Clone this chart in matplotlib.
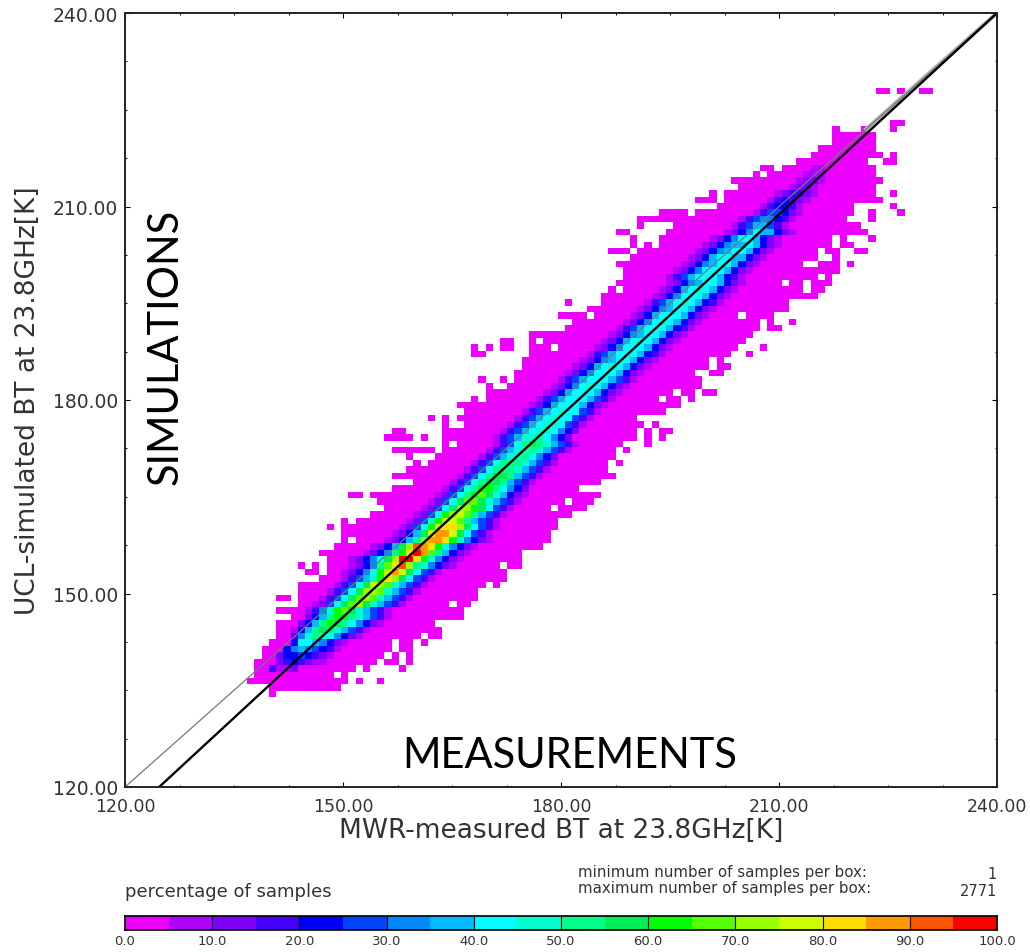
import numpy as np
import matplotlib
matplotlib.use("Agg")
import matplotlib.pyplot as plt
from matplotlib.colors import ListedColormap, BoundaryNorm

# --------------------------------------------------
# Values
# --------------------------------------------------

# colour bands, one per 5 percent
band_colors = [
    "#ee00ff", "#b000ff", "#7d00ff", "#4400ff", "#0000ff",
    "#0044ff", "#0088ff", "#00bbff", "#00ffff", "#00ffcc",
    "#00ff88", "#00ee55", "#00ff00", "#55ff00", "#99ff00",
    "#ccff00", "#ffdd00", "#ff9900", "#ff5500", "#ff0000",
]

# occupied boxes of the lowest band, by row: (first column, last column)
low_rows = {
    134: [(139, 139)],
    135: [(139, 148)],
    136: [(136, 149), (151, 151), (154, 154)],
    137: [(137, 147), (149, 149)],
    138: [(137, 150), (152, 152), (157, 157)],
    139: [(137, 153), (155, 156), (158, 158)],
    140: [(138, 154), (156, 156), (158, 158)],
    141: [(138, 155), (157, 158)],
    142: [(139, 155), (157, 158), (160, 160)],
    143: [(140, 159), (161, 162)],
    144: [(140, 162)],
    145: [(140, 161)],
    146: [(142, 165)],
    147: [(140, 165)],
    148: [(143, 163), (165, 166)],
    149: [(140, 141), (143, 167)],
    150: [(143, 167)],
    151: [(143, 168), (170, 170)],
    152: [(146, 171)],
    153: [(144, 145), (147, 171)],
    154: [(143, 143), (145, 145), (147, 170), (172, 173)],
    155: [(147, 173)],
    156: [(146, 173)],
    157: [(148, 176)],
    158: [(149, 149), (151, 177)],
    159: [(149, 177)],
    160: [(147, 147), (149, 178)],
    161: [(149, 149), (151, 178)],
    162: [(153, 180)],
    163: [(155, 177), (179, 182)],
    164: [(154, 179), (181, 183)],
    165: [(150, 151), (153, 184)],
    166: [(156, 181)],
    167: [(159, 184)],
    168: [(156, 186)],
    169: [(158, 185)],
    170: [(159, 159), (161, 185), (187, 187)],
    171: [(158, 158), (162, 186)],
    172: [(156, 161), (163, 186), (188, 188)],
    173: [(163, 163), (165, 187), (191, 191)],
    174: [(155, 158), (160, 160), (163, 189), (191, 191), (193, 193)],
    175: [(156, 157), (163, 189), (191, 191), (193, 194)],
    176: [(163, 163), (166, 190), (192, 192)],
    177: [(161, 161), (163, 163), (165, 189)],
    178: [(166, 193)],
    179: [(165, 195)],
    180: [(167, 167), (169, 192), (194, 195), (197, 197)],
    181: [(169, 194), (196, 197), (199, 200)],
    182: [(169, 169), (172, 198)],
    183: [(168, 168), (171, 171), (173, 198)],
    184: [(173, 197), (200, 201)],
    185: [(174, 199), (201, 202)],
    186: [(174, 199), (201, 201)],
    187: [(167, 168), (175, 202), (205, 205)],
    188: [(167, 167), (169, 169), (171, 172), (175, 177), (179, 203), (207, 207)],
    189: [(171, 172), (175, 175), (177, 204)],
    190: [(175, 205)],
    191: [(180, 206), (208, 209)],
    192: [(181, 206), (208, 208), (211, 211)],
    193: [(179, 182), (184, 203), (205, 208)],
    194: [(183, 210)],
    195: [(180, 180), (185, 210)],
    196: [(185, 214)],
    197: [(186, 186), (188, 212), (214, 215)],
    198: [(187, 209), (211, 212), (214, 216)],
    199: [(188, 214), (216, 216)],
    200: [(188, 217)],
    201: [(187, 212), (215, 217), (219, 219)],
    202: [(189, 214), (217, 217)],
    203: [(186, 188), (190, 214), (216, 217), (220, 221)],
    204: [(189, 189), (191, 191), (193, 216), (218, 219)],
    205: [(189, 189), (193, 216), (218, 218), (222, 222)],
    206: [(187, 188), (194, 221)],
    207: [(190, 190), (195, 220)],
    208: [(190, 218), (222, 222)],
    209: [(193, 196), (198, 219), (222, 222), (226, 226)],
    210: [(201, 219), (225, 225)],
    211: [(198, 200), (202, 223)],
    212: [(200, 200), (202, 222), (225, 225)],
    213: [(204, 222)],
    214: [(203, 223)],
    215: [(206, 206), (208, 222)],
    216: [(207, 208), (210, 222)],
    217: [(212, 221), (224, 225)],
    218: [(214, 223), (225, 225)],
    219: [(215, 222)],
    220: [(217, 222)],
    221: [(217, 222)],
    222: [(217, 217), (221, 221), (225, 225)],
    223: [(225, 226)],
    228: [(223, 224), (226, 226), (229, 230)],
}

# ridge of the distribution, by row: first column and one band digit per box
# digits run 0-9 then a-j, so j is the 95-100 percent band
core_rows = {
    138: (139, "3112"),
    139: (140, "2343211"),
    140: (140, "24454321"),
    141: (141, "46765431"),
    142: (142, "48876421"),
    143: (142, "369a986421"),
    144: (142, "147aba97531"),
    145: (143, "247acba86421"),
    146: (144, "247acca97531"),
    147: (144, "1369cdb97531"),
    148: (145, "1258bdeb97531"),
    149: (146, "1358bded97531"),
    150: (147, "1358beed97531"),
    151: (148, "1358bfed97531"),
    152: (149, "13579cgeb8531"),
    153: (149, "12468cfhfb8531"),
    154: (150, "1246adgiea96421"),
    155: (150, "12468bejjgc96421"),
    156: (152, "1246acgjhda7421"),
    157: (153, "1247beihgc96421"),
    158: (155, "1247aehhgc96421"),
    159: (156, "1247bfhhfb8531"),
    160: (157, "1258cfggeb8531"),
    161: (158, "1259cffda7531"),
    162: (159, "1258cefda7531"),
    163: (160, "1258beecb8531"),
    164: (161, "1258bddb97531"),
    165: (162, "1258acdb97421"),
    166: (163, "1358acca8642"),
    167: (164, "1358abba7531"),
    168: (165, "1358abba7531"),
    169: (166, "1358aaa97531"),
    170: (167, "1358aaa97531"),
    171: (168, "135799a8642"),
    172: (169, "135799a97531"),
    173: (170, "1358aba97531"),
    174: (170, "135799a8642"),
    175: (171, "13578998642"),
    176: (172, "13578998531"),
    177: (173, "13578988531"),
    178: (174, "13578988531"),
    179: (175, "12478887421"),
    180: (176, "13578887531"),
    181: (177, "12478887421"),
    182: (178, "12468987421"),
    183: (179, "13578887531"),
    184: (180, "12468887421"),
    185: (181, "12478987421"),
    186: (182, "12467887421"),
    187: (183, "13578887431"),
    188: (184, "12468887421"),
    189: (185, "12478987421"),
    190: (186, "12467887421"),
    191: (187, "13578887431"),
    192: (188, "12468987421"),
    193: (189, "12478887421"),
    194: (190, "12467887421"),
    195: (191, "13578987431"),
    196: (192, "12468887421"),
    197: (193, "12478987421"),
    198: (194, "12467887421"),
    199: (194, "13578887431"),
    200: (195, "12468887421"),
    201: (196, "12467887421"),
    202: (197, "12478877421"),
    203: (198, "12467887421"),
    204: (199, "12467787421"),
    205: (200, "1246887421"),
    206: (202, "1246877421"),
    207: (203, "13577531"),
    208: (204, "13566431"),
    209: (206, "1355421"),
    210: (207, "134431"),
    211: (208, "134321"),
    212: (209, "123321"),
    213: (211, "1221"),
    214: (212, "1221"),
    215: (213, "111"),
    216: (214, "11"),
}

# lines: one to one and regression, the grey one gets broad past the cloud
one_x = [120, 240]
one_y = [120, 240]
fit_x = [124.7, 240]
fit_y = [120, 240]
band_x = [222, 240]
band_y = [222, 240]

ticks = [120, 150, 180, 210, 240]
minor_ticks = [127.5, 135, 142.5, 157.5, 165, 172.5, 187.5, 195, 202.5, 217.5, 225, 232.5]
bar_ticks = [0, 10, 20, 30, 40, 50, 60, 70, 80, 90, 100]
min_samples = 1
max_samples = 2771

# --------------------------------------------------
# Build the grid
# --------------------------------------------------

digits = "0123456789abcdefghij"
ncol = 110
nrow = 110
col0 = 130
row0 = 130

grid = np.full((nrow, ncol), np.nan)
for row, segments in low_rows.items():
    for first, last in segments:
        grid[row - row0, first - col0:last - col0 + 1] = 2.5

for row, (first, levels) in core_rows.items():
    for i, ch in enumerate(levels):
        grid[row - row0, first - col0 + i] = digits.index(ch) * 5 + 2.5

# boxes are a little under 1 K wide
x_edges = 139.8 + (np.arange(ncol + 1) + col0 - 139) * 0.994
y_edges = 133.92 + (np.arange(nrow + 1) + row0 - 134) * 0.995

cmap = ListedColormap(band_colors)
norm = BoundaryNorm(np.arange(0, 105, 5), cmap.N)

# --------------------------------------------------
# Plot
# --------------------------------------------------

W, H = 1030, 953
fig = plt.figure(figsize=(W / 100, H / 100), dpi=100)
ax = fig.add_axes([125 / W, 1 - 788 / H, 872 / W, 774 / H])

ax.pcolormesh(x_edges, y_edges, np.ma.masked_invalid(grid), cmap=cmap, norm=norm)
ax.plot(band_x, band_y, color="#b5b5b5", linewidth=3)
ax.plot(one_x, one_y, color="#777777", linewidth=0.9)
ax.plot(fit_x, fit_y, color="black", linewidth=1.7)

ax.set_xlim(120, 240)
ax.set_ylim(120, 240)
ax.set_xticks(ticks)
ax.set_yticks(ticks)
ax.set_xticks(minor_ticks, minor=True)
ax.set_yticks(minor_ticks, minor=True)
ax.set_xticklabels(["%.2f" % t for t in ticks])
ax.set_yticklabels(["%.2f" % t for t in ticks])
ax.tick_params(which="major", direction="in", top=True, right=True, length=3.5, width=0.8,
               labelcolor="#333333")
ax.tick_params(which="minor", direction="in", top=True, right=True, length=1.5, width=0.7)
ax.tick_params(axis="x", which="major", labelsize=12.5, pad=7)
ax.tick_params(axis="y", which="major", labelsize=13.5, pad=5)
for s in ax.spines.values():
    s.set_linewidth(1.4)
    s.set_color("#222222")

fig.text(561 / W, 1 - 831 / H, "MWR-measured BT at 23.8GHz[K]", ha="center", va="center",
         fontsize=19, color="#333333")
fig.text(28 / W, 1 - 401 / H, "UCL-simulated BT at 23.8GHz[K]", ha="center", va="center",
         rotation=90, fontsize=19, color="#333333")

# labels pasted on top of the plot
fig.text(570 / W, 1 - 756 / H, "MEASUREMENTS", ha="center", va="center", fontsize=30,
         family="Lato", color="black")
fig.text(166 / W, 1 - 347 / H, "SIMULATIONS", ha="center", va="center", rotation=90, fontsize=30,
         family="Lato", color="black")

# colour bar
cax = fig.add_axes([125 / W, 1 - 931 / H, 872 / W, 14 / H])
bar_edges = np.arange(0, 105, 5)
bar_vals = (bar_edges[:-1] + bar_edges[1:]) / 2
cax.pcolormesh(bar_edges, [0, 1], bar_vals[np.newaxis, :], cmap=cmap, norm=norm)
for t in bar_ticks[1:-1]:
    cax.axvline(t, color="black", linewidth=0.8)
cax.set_xlim(0, 100)
cax.set_yticks([])
cax.set_xticks(bar_ticks)
cax.set_xticklabels(["%.1f" % t for t in bar_ticks])
cax.tick_params(axis="x", length=0, labelsize=9.5, labelcolor="#333333", pad=3)
for s in cax.spines.values():
    s.set_linewidth(1.2)

fig.text(125 / W, 1 - 892 / H, "percentage of samples", ha="left", va="center", fontsize=13, color="#333333")
fig.text(578 / W, 1 - 873 / H, "minimum number of samples per box:", ha="left", va="center", fontsize=10.8, color="#333333")
fig.text(578 / W, 1 - 889 / H, "maximum number of samples per box:", ha="left", va="center", fontsize=10.8, color="#333333")
fig.text(997 / W, 1 - 875 / H, str(min_samples), ha="right", va="center", fontsize=10.5, color="#333333")
fig.text(997 / W, 1 - 892 / H, str(max_samples), ha="right", va="center", fontsize=10.5, color="#333333")

fig.savefig("out.png", dpi=100)
